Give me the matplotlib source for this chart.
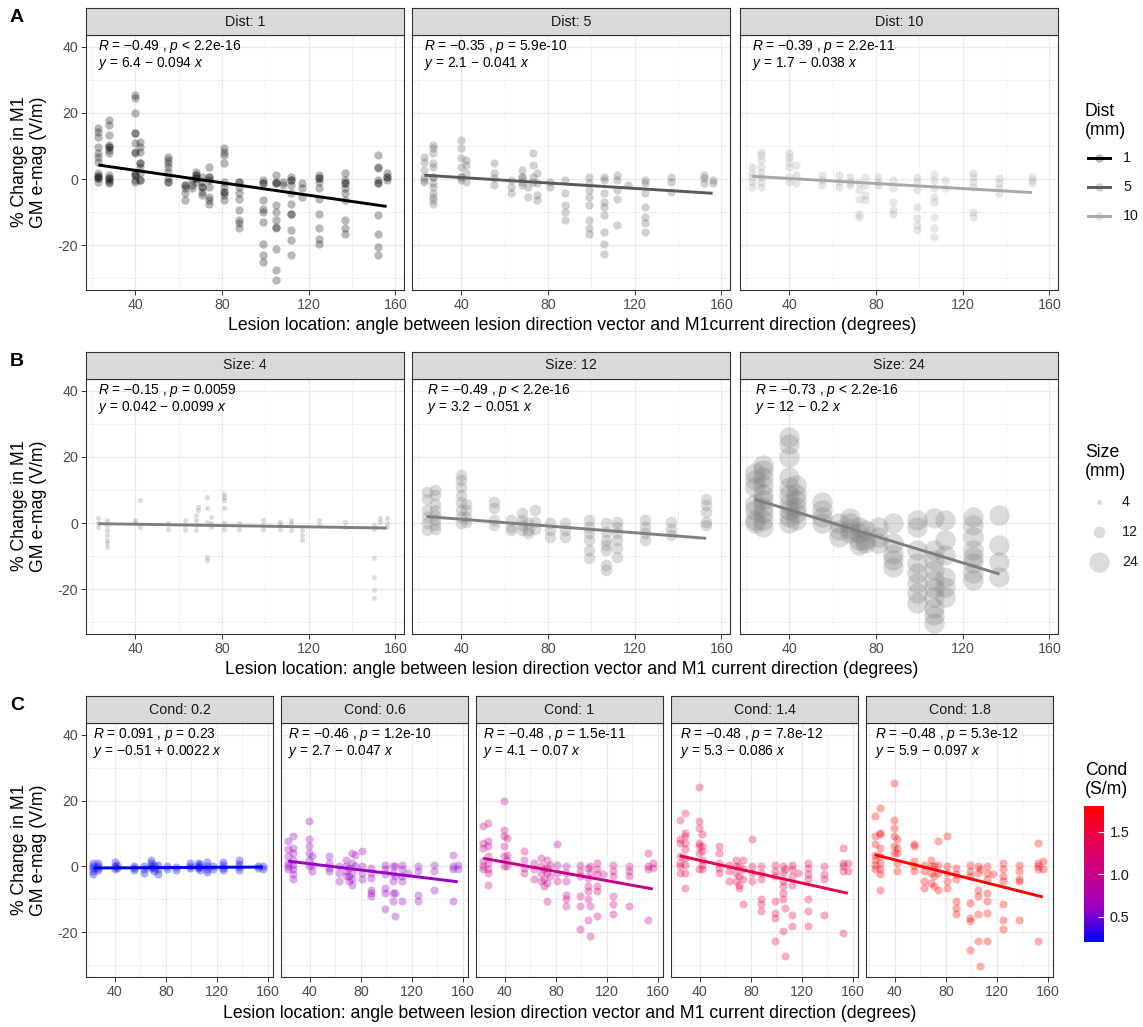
import numpy as np
import matplotlib
import matplotlib.pyplot as plt
from matplotlib.colors import LinearSegmentedColormap, Normalize
from matplotlib.lines import Line2D

plt.rcParams['font.family'] = ['Liberation Sans', 'DejaVu Sans']
plt.rcParams['mathtext.fontset'] = 'custom'
plt.rcParams['mathtext.rm'] = 'Liberation Sans'
plt.rcParams['mathtext.it'] = 'Liberation Sans:italic'
plt.rcParams['axes.unicode_minus'] = False

# ---------------- datos ----------------
# fila A: distancia (mm)
dist_titulos = ['Dist: 1', 'Dist: 5', 'Dist: 10']
dist_colores = ['#000000', '#5A5A5A', '#A8A8A8']
dist_etiquetas = ['1', '5', '10']
dist_coef = [(6.4, -0.094), (2.1, -0.041), (1.7, -0.038)]
dist_r = [r'$R$ = $-$0.49 , $p$ < 2.2e-16', r'$R$ = $-$0.35 , $p$ = 5.9e-10', r'$R$ = $-$0.39 , $p$ = 2.2e-11']
dist_eq = [r'$y$ = 6.4 $-$ 0.094 $x$', r'$y$ = 2.1 $-$ 0.041 $x$', r'$y$ = 1.7 $-$ 0.038 $x$']

dist1_ang = [23, 28, 40, 42, 55, 63, 66, 68, 71, 74, 81, 88, 99, 105, 108, 112, 117, 125, 137, 152, 156]
dist1_val = [
    [15.4, 14.3, 12.8, 9.8, 8.0, 6.7, 5.3, 1.7, 1.0, 1.0, 0.2, 0.2, -0.8],
    [17.9, 16.4, 13.3, 10.3, 9.8, 9.8, 8.8, 7.8, 1.2, 0.2, 0.2, -0.3, -0.8, -1.3],
    [25.5, 24.4, 19.9, 13.8, 13.8, 10.8, 8.3, 7.8, 1.7, 1.2, 1.2, -0.3, -0.8],
    [11.3, 9.8, 8.3, 4.7, 4.7, 3.7, 1.7, -0.3, -0.3],
    [6.8, 5.8, 4.7, 3.7, 2.2, 0.2, -0.8, -0.8],
    [-1.8, -1.8, -2.8, -4.3, -6.4],
    [-0.3, -1.8, -2.8],
    [2.2, 1.2, 1.2, 0.2, 0.2, -0.8],
    [0.7, -0.8, -2.3, -2.3, -3.8, -4.8],
    [3.7, 0.7, 0.7, -0.3, -2.3, -5.4, -6.4, -7.4],
    [9.3, 8.3, 7.3, 4.7, -0.8, -2.3, -3.8, -3.8, -4.8, -6.4],
    [-0.8, -0.8, -2.3, -4.3, -5.9, -9.4, -12.4, -13.4, -14.9],
    [-0.3, -1.3, -1.3, -6.4, -8.9, -9.9, -12.9, -19.5, -23.0, -25.1],
    [1.2, -0.8, -1.3, -1.3, -7.9, -9.9, -12.4, -14.4, -14.9, -21.0, -27.6, -30.6],
    [-0.8, -1.8],
    [0.7, -0.3, -0.3, -1.8, -4.3, -7.4, -10.4, -10.4, -15.5, -18.5, -23.0],
    [-1.3, -2.8, -5.4],
    [1.2, 0.2, 0.2, -0.8, -2.8, -5.9, -10.4, -14.9, -18.0, -19.5],
    [1.9, -0.3, -1.3, -1.3, -2.8, -4.3, -6.4, -12.4, -14.9, -16.5],
    [7.3, 3.7, 3.2, -0.3, -1.3, -1.3, -10.9, -16.5, -20.5, -23.0],
    [1.7, 0.7, 0.7, -0.3],
]

dist5_ang = [23, 27, 40, 42, 55, 63, 68, 71, 73, 75, 81, 88, 99, 106, 112, 117, 125, 137, 152, 156]
dist5_val = [
    [6.8, 5.3, 2.7, 0.7, -0.3, -0.8],
    [10.3, 9.3, 7.8, 4.7, 3.7, 0.7, 0.7, -1.3, -2.3, -4.3, -5.4, -6.4, -7.4],
    [11.8, 9.3, 6.3, 3.7, 0.7, 0.7, -0.3],
    [5.8, 4.2, 1.7, -0.8],
    [4.7, 1.7, 0.2, -1.8],
    [-0.3, -2.3, -4.3],
    [2.7, 0.7, 0.7, -0.8, -1.8],
    [-2.3, -5.4],
    [7.8, 4.2, 0.7, -0.8],
    [1.7, -1.3, -4.8, -6.4],
    [-0.8, -2.3],
    [-0.3, -4.3, -7.9, -9.9, -12.4],
    [0.7, -1.3, -3.3, -5.4, -7.9, -12.4, -14.9, -16.5],
    [0.7, -0.3, -4.3, -6.9, -8.4, -10.9, -16.0, -19.5, -22.5],
    [1.2, -0.3, -3.3, -5.9, -13.9],
    [-1.8],
    [-0.3, -1.3, -4.3, -8.4, -11.4, -13.4, -16.0],
    [0.7, -0.8, -3.8],
    [1.2, 0.2, -1.3],
    [-0.3, -1.3],
]

dist10_ang = [23, 27, 40, 43, 55, 63, 68, 72, 75, 81, 88, 99, 107, 112, 125, 137, 152]
dist10_val = [
    [3.7, 1.7, 0.7, -0.8, -2.3],
    [8.3, 7.3, 5.8, 3.7, 2.2, 0.7, -0.8, -2.3],
    [7.8, 6.8, 5.3, 3.7, 0.7, -0.8],
    [4.2, 1.2, -1.3],
    [1.2, -0.3, -1.8],
    [1.2, -0.8, -2.3],
    [0.7, -0.8, -1.8],
    [-1.3, -3.3, -5.9, -10.4, -11.4],
    [0.7, -1.8, -4.8, -6.4],
    [0.7, -0.8, -1.8],
    [-0.3, -2.8, -6.9, -9.4, -10.4],
    [0.7, -0.8, -3.3, -8.4, -11.9, -13.9, -15.5],
    [1.5, -0.3, -2.8, -5.4, -6.9, -11.4, -14.9, -17.5],
    [-0.3, -2.8],
    [1.7, 0.7, -0.8, -2.3, -9.9, -11.4],
    [0.2, -1.3, -2.8, -4.3],
    [0.7, -0.3, -1.3],
]

# fila B: tamano (mm)
size_titulos = ['Size: 4', 'Size: 12', 'Size: 24']
size_puntos = [13, 70, 215]
size_etiquetas = ['4', '12', '24']
size_coef = [(0.042, -0.0099), (3.2, -0.051), (12, -0.2)]
size_r = [r'$R$ = $-$0.15 , $p$ = 0.0059', r'$R$ = $-$0.49 , $p$ < 2.2e-16', r'$R$ = $-$0.73 , $p$ < 2.2e-16']
size_eq = [r'$y$ = 0.042 $-$ 0.0099 $x$', r'$y$ = 3.2 $-$ 0.051 $x$', r'$y$ = 12 $-$ 0.2 $x$']

size4_ang = [23, 27, 40, 42, 55, 63, 68, 69, 73, 75, 81, 88, 99, 107, 112, 117, 125, 137, 150, 153, 156]
size4_val = [
    [1.4, -0.1, -1.1],
    [0.9, -0.6, -2.1, -3.6, -5.1, -6.1, -7.1],
    [0.9, -0.1],
    [6.9, -1.1],
    [-0.1, -1.7],
    [0.9, -0.6, -2.1],
    [2.4, 0.9, -0.6, -2.1],
    [4.9, 3.9],
    [7.9, 4.4, 0.4, -10.2, -11.2],
    [1.9, -0.1, -1.1],
    [8.9, 7.9, 6.9, 4.4, -0.1, -1.7],
    [-0.1, -1.7],
    [0.9, -0.6, -1.7],
    [0.4, -0.6, -1.7],
    [0.9, -0.1, -2.1],
    [-2.1, -3.6, -5.1],
    [0.9, -0.6],
    [0.4, -1.1],
    [-0.6, -1.7, -10.7, -16.2, -20.2, -22.7],
    [1.4, 0.4],
    [1.4, -0.1, -1.1],
]

size12_ang = [24, 28, 40, 42, 55, 63, 68, 71, 74, 81, 88, 99, 107, 112, 125, 137, 153]
size12_val = [
    [9.4, 7.4, 3.9, 1.9, -0.1, -2.1],
    [9.9, 8.4, 5.9, 3.9, 2.4, 0.9, -0.6, -1.7],
    [14.5, 13.0, 11.0, 8.4, 6.4, 3.9, 1.9, -0.1],
    [5.9, 3.9, 1.9, 0.4],
    [6.4, 4.4, 0.9, -0.6],
    [0.9, -1.1, -2.1],
    [2.9, 0.9, -0.6, -2.1],
    [-0.1, -2.1, -3.1],
    [3.9, 0.4, -1.7],
    [-0.1, -2.1, -4.2],
    [-0.1, -2.1, -4.2],
    [0.9, -1.1, -3.1, -5.1, -8.1, -10.7],
    [-0.1, -2.6, -5.1, -6.6, -8.1, -12.7, -14.2],
    [0.4, -1.1, -3.1, -5.1, -7.6, -10.2],
    [0.9, -1.1, -3.1, -5.1],
    [0.4, -1.7, -3.6],
    [7.4, 5.4, 3.4, 0.4, -0.6],
]

size24_ang = [24, 28, 40, 43, 55, 63, 68, 72, 75, 81, 88, 99, 107, 112, 125, 137]
size24_val = [
    [15.0, 13.0, 11.0, 5.9, 3.9, 0.9, -0.1],
    [17.5, 16.0, 14.0, 11.5, 8.9, 6.9, 4.9, 2.9, 0.9, -1.1],
    [26.0, 24.0, 20.0, 14.0, 11.0, 8.4, 5.9, 3.9, 1.9, -0.1],
    [11.5, 8.9, 6.9, 4.9, 2.9, 0.9],
    [6.4, 3.9, 1.9, -0.1],
    [-0.1, -2.1, -4.2],
    [1.4, -0.1, -1.7, -3.1],
    [-1.1, -3.1, -5.1, -6.6],
    [-2.1, -5.1, -6.1],
    [-1.1, -4.2, -6.1],
    [-0.1, -6.1, -9.2, -11.2, -13.2],
    [0.9, -1.1, -8.1, -12.2, -15.2, -18.2, -21.2, -24.2],
    [1.4, -8.1, -11.2, -14.2, -17.2, -19.7, -22.2, -25.7, -27.8, -30.2],
    [0.9, -5.1, -9.7, -16.2, -19.2, -22.2],
    [1.9, -0.6, -4.2, -8.1, -10.2, -12.2, -15.2, -17.2],
    [2.4, -6.6, -11.7, -16.2],
]

# fila C: conductividad (S/m)
cond_titulos = ['Cond: 0.2', 'Cond: 0.6', 'Cond: 1', 'Cond: 1.4', 'Cond: 1.8']
cond_valores = [0.2, 0.6, 1.0, 1.4, 1.8]
cond_coef = [(-0.51, 0.0022), (2.7, -0.047), (4.1, -0.07), (5.3, -0.086), (5.9, -0.097)]
cond_r = [r'$R$ = 0.091 , $p$ = 0.23', r'$R$ = $-$0.46 , $p$ = 1.2e-10', r'$R$ = $-$0.48 , $p$ = 1.5e-11',
          r'$R$ = $-$0.48 , $p$ = 7.8e-12', r'$R$ = $-$0.48 , $p$ = 5.3e-12']
cond_eq = [r'$y$ = $-$0.51 + 0.0022 $x$', r'$y$ = 2.7 $-$ 0.047 $x$', r'$y$ = 4.1 $-$ 0.07 $x$',
           r'$y$ = 5.3 $-$ 0.086 $x$', r'$y$ = 5.9 $-$ 0.097 $x$']

cond02_ang = [23, 27, 40, 42, 55, 63, 68, 71, 74, 81, 88, 99, 105, 107, 112, 117, 125, 137, 152, 156]
cond02_val = [
    [1.0, 0.2, -0.6, -1.5, -2.4],
    [1.2, 0.3, -0.5, -1.2],
    [1.4, 0.2, -0.8],
    [0.5, -0.6],
    [0.3, -0.4, -1.2],
    [0.2, -0.8, -1.9],
    [2.0, 1.0, 0.2, -0.6],
    [0.6, -0.5, -1.3],
    [0.4, -0.9, -2.2],
    [0.1, -0.8],
    [-0.2, -1.1],
    [1.0, 0.2, -0.5],
    [1.1, 0.3, -0.6],
    [0.8, -0.2, -1.2],
    [1.3, 0.1, -0.9, -1.7],
    [0.2, -0.7],
    [1.4, 0.5, -0.4, -1.2],
    [2.0, 0.9, -0.3, -1.0],
    [0.2, -0.5],
    [0.0, -0.8],
]

cond06_ang = [23, 27, 39, 42, 55, 63, 68, 71, 73, 75, 81, 88, 99, 105, 107, 112, 117, 125, 137, 152, 156]
cond06_val = [
    [7.7, 5.2, 3.1, 1.1, 0.1, -0.9],
    [9.2, 5.7, 4.1, 2.1, 0.6, -0.9, -2.4, -3.9],
    [13.7, 8.2, 6.2, 4.1, 2.1, 0.1],
    [3.1, 0.6, -1.4],
    [3.1, 1.1, -0.4, -1.4],
    [0.1, -1.9, -4.4],
    [2.1, 0.1, -1.4, -2.9],
    [-0.4, -2.9, -4.4],
    [4.1, 1.1, -1.9, -3.9, -5.5],
    [3.6, 0.1],
    [4.6, 0.1, -1.9, -3.9],
    [-0.4, -1.9, -3.4, -7.0, -8.0, -9.0],
    [0.6, -0.9, -2.4, -6.5, -8.0, -13.0],
    [0.1, -1.9, -4.4, -8.0, -10.5],
    [0.1, -2.9, -8.0, -15.0],
    [0.6, -0.9, -2.9, -4.4, -10.5],
    [-1.9],
    [0.1, -1.4, -8.5, -10.5],
    [0.6, -1.4, -7.0],
    [3.6, 0.1, -0.9, -10.5],
    [0.6, -0.9],
]

cond10_ang = [23, 27, 39, 42, 55, 63, 68, 71, 73, 75, 81, 88, 99, 105, 107, 112, 117, 125, 137, 152, 156]
cond10_val = [
    [12.2, 7.2, 5.7, 1.6, 0.1, -0.9],
    [13.2, 7.7, 6.2, 3.1, 1.1, -0.9, -1.9, -5.5],
    [19.8, 11.2, 9.2, 6.2, 3.1, 0.1],
    [8.7, 3.6, 2.1, 0.1],
    [4.6, 2.1, -0.4, -1.9],
    [1.1, -0.9, -3.9],
    [2.6, 0.1, -1.9, -4.4],
    [-0.9, -3.9, -6.0],
    [2.1, -0.4, -1.9, -4.9, -10.5],
    [0.6, -2.9],
    [6.7, 0.6, -1.9, -4.4],
    [0.1, -1.9, -4.4, -8.5, -10.0, -12.0],
    [0.6, -1.4, -2.9, -9.0, -12.0, -19.1],
    [-0.4, -3.4, -6.0, -7.5, -10.0, -16.1],
    [0.1, -1.9, -12.0, -21.1],
    [1.1, -0.9, -2.4, -6.0, -7.5, -15.0],
    [-2.4],
    [0.6, -1.4, -2.9, -9.0, -11.5, -14.5],
    [0.1, -1.4, -2.9, -12.0],
    [4.1, 0.1, -0.9, -16.1],
    [1.1, -0.4],
]

cond14_ang = [24, 28, 39, 42, 55, 63, 68, 71, 74, 81, 88, 99, 105, 107, 112, 117, 125, 137, 152, 156]
cond14_val = [
    [14.2, 8.2, 7.2, 3.1, 1.1, 0.1, -1.9],
    [16.3, 10.2, 9.2, 7.2, 5.2, 2.6, 0.6, -1.9, -6.5],
    [24.1, 13.7, 11.7, 7.2, 6.2, 4.1, -0.9],
    [9.7, 6.2, 4.6, 2.1, 0.6, -0.9],
    [6.2, 4.1, 1.1, -0.4, -1.9],
    [0.6, -1.4, -4.4],
    [2.1, 0.1, -1.9, -4.4],
    [0.1, -2.9, -5.5, -6.5],
    [2.1, -0.9, -3.9, -11.5],
    [8.2, 0.1, -1.9, -4.4],
    [0.1, -1.9, -3.9, -10.0, -11.5, -13.5],
    [0.6, -1.4, -2.9, -10.5, -14.0, -15.6, -22.6],
    [0.1, -1.9, -4.4, -6.0, -8.0, -10.0, -19.6],
    [-0.9, -12.6, -27.2],
    [0.6, -0.9, -2.9, -5.5, -14.6, -18.1],
    [-1.9],
    [1.1, -0.4, -2.4, -3.9, -10.0, -13.5, -18.1],
    [0.1, -2.4, -3.9, -14.6],
    [5.7, 1.1, 0.1, -1.4, -20.1],
    [1.1, -1.4],
]

cond18_ang = [24, 28, 39, 42, 55, 63, 68, 71, 74, 81, 88, 99, 105, 107, 112, 117, 125, 137, 152, 156]
cond18_val = [
    [15.3, 9.2, 6.7, 3.6, 2.1, 0.6, -0.9],
    [17.8, 10.2, 9.7, 5.7, 3.1, 1.1, -0.9, -2.4, -7.0],
    [25.4, 14.2, 11.7, 9.2, 6.2, 4.1],
    [8.2, 5.7, 4.1, 1.1, -1.4],
    [6.7, 6.2, 1.6, 0.1, -1.4],
    [0.6, -1.4, -4.4, -6.5],
    [2.1, 0.1, -1.9, -4.9],
    [0.1, -2.9, -6.0],
    [7.7, 0.6, -1.9, -7.0],
    [9.2, 0.1, -1.9, -4.4, -6.5],
    [-0.4, -2.4, -3.9, -10.5, -12.5, -14.5],
    [0.6, -1.4, -2.9, -11.0, -15.6, -16.6, -25.2],
    [0.1, -1.9, -7.0, -9.0, -14.5, -22.6],
    [-0.9, -30.2],
    [0.1, -1.9, -3.9, -8.0, -10.5, -14.0, -22.6],
    [-2.4],
    [1.1, -0.9, -2.9, -4.4, -11.5, -16.1, -19.1],
    [0.6, -1.4, -3.9, -4.4, -16.1],
    [7.2, 1.1, 0.1, -0.9, -22.6],
    [1.6, -0.9],
]

# ---------------- maquetacion ----------------
W, H = 1143, 1027
ylabel_txt = '% Change in M1\nGM e-mag (V/m)'
xlabel_a = 'Lesion location: angle between lesion direction vector and M1current direction (degrees)'
xlabel_bc = 'Lesion location: angle between lesion direction vector and M1 current direction (degrees)'
t_titulo = 12.7
t_ticks = 10.3
t_nota = 9.9


def caja(x0, y0, w, h):
    # pixeles (origen arriba a la izquierda) -> fraccion de figura
    return [x0 / W, 1 - (y0 + h) / H, w / W, h / H]


def expandir(angulos, valores):
    xs = [a for a, v in zip(angulos, valores) for _ in v]
    ys = [y for v in valores for y in v]
    return np.array(xs, float), np.array(ys, float)


def hacerPanel(x0, y0, w, h, titulo, conEjeY):
    ax = fig.add_axes(caja(x0, y0, w, h))
    ax.set_xlim(17.3, 164)
    ax.set_ylim(-33.5, 43.5)
    ax.set_xticks([40, 80, 120, 160])
    ax.set_xticks([20, 60, 100, 140], minor=True)
    ax.set_yticks([-20, 0, 20, 40])
    ax.set_yticks([-30, -10, 10, 30], minor=True)
    ax.grid(which='major', color='#EBEBEB', lw=0.9)
    ax.grid(which='minor', color='#EBEBEB', lw=0.5)
    ax.set_axisbelow(True)
    ax.tick_params(which='minor', length=0)
    ax.tick_params(which='major', length=3.5, width=0.7, color='#333333',
                   labelcolor='#4D4D4D', labelsize=t_ticks, pad=2)
    for s in ax.spines.values():
        s.set_color('#333333')
        s.set_linewidth(0.8)
    if not conEjeY:
        ax.tick_params(axis='y', left=False, labelleft=False)
    tira = fig.add_axes(caja(x0, y0 - 27, w, 27))
    tira.set_facecolor('#D9D9D9')
    tira.set_xticks([])
    tira.set_yticks([])
    for s in tira.spines.values():
        s.set_color('#333333')
        s.set_linewidth(0.8)
    tira.text(0.5, 0.5, titulo, ha='center', va='center', fontsize=t_ticks,
              color='#1A1A1A', transform=tira.transAxes)
    return ax


def anotar(ax, xmin, linea1, linea2):
    ax.text(xmin, 40, linea1, ha='left', va='center', fontsize=t_nota, color='black')
    ax.text(xmin, 34.8, linea2, ha='left', va='center', fontsize=t_nota, color='black')


def recta(ax, xs, coef, color):
    xx = np.array([xs.min(), xs.max()])
    ax.plot(xx, coef[0] + coef[1] * xx, color=color, lw=2.1, solid_capstyle='butt', zorder=4)


fig = plt.figure(figsize=(W / 100, H / 100), dpi=100)
lienzo = fig.add_axes([0, 0, 1, 1])
lienzo.set_xlim(0, W)
lienzo.set_ylim(H, 0)
lienzo.axis('off')

# fila A
filaA_x0 = [86, 412, 740]
dist_datos = [(dist1_ang, dist1_val), (dist5_ang, dist5_val), (dist10_ang, dist10_val)]
for i, (ang, val) in enumerate(dist_datos):
    ax = hacerPanel(filaA_x0[i], 35, 318, 255, dist_titulos[i], i == 0)
    xs, ys = expandir(ang, val)
    ax.scatter(xs, ys, s=36, color=dist_colores[i], alpha=0.28, linewidths=0, zorder=3)
    recta(ax, xs, dist_coef[i], dist_colores[i])
    anotar(ax, xs.min(), dist_r[i], dist_eq[i])

# fila B
size_datos = [(size4_ang, size4_val), (size12_ang, size12_val), (size24_ang, size24_val)]
for i, (ang, val) in enumerate(size_datos):
    ax = hacerPanel(filaA_x0[i], 379, 318, 255, size_titulos[i], i == 0)
    xs, ys = expandir(ang, val)
    ax.scatter(xs, ys, s=size_puntos[i], color='#7F7F7F', alpha=0.28, linewidths=0, zorder=3)
    recta(ax, xs, size_coef[i], '#7F7F7F')
    anotar(ax, xs.min(), size_r[i], size_eq[i])

# fila C
paleta = LinearSegmentedColormap.from_list('cond', ['#0000FF', '#9A00C2', '#C90088', '#E8004F', '#FF0000'])
norma = Normalize(vmin=0.2, vmax=1.8)
filaC_x0 = [86, 281, 476, 671, 866]
cond_datos = [(cond02_ang, cond02_val), (cond06_ang, cond06_val), (cond10_ang, cond10_val),
              (cond14_ang, cond14_val), (cond18_ang, cond18_val)]
for i, (ang, val) in enumerate(cond_datos):
    ax = hacerPanel(filaC_x0[i], 723, 187, 254, cond_titulos[i], i == 0)
    xs, ys = expandir(ang, val)
    col = paleta(norma(cond_valores[i]))
    ax.scatter(xs, ys, s=34, color=col, alpha=0.32, linewidths=0, zorder=3)
    recta(ax, xs, cond_coef[i], col)
    anotar(ax, xs.min(), cond_r[i], cond_eq[i])

# textos comunes
for letra, yl in zip(['A', 'B', 'C'], [17, 361, 705]):
    lienzo.text(10, yl, letra, fontsize=14, fontweight='bold', ha='left', va='center')
for yc in [162, 506, 850]:
    lienzo.text(29, yc, ylabel_txt, rotation=90, ha='center', va='center',
                fontsize=t_titulo, linespacing=1.2, multialignment='center')
lienzo.text(572, 325, xlabel_a, ha='center', va='center', fontsize=t_titulo)
lienzo.text(572, 669, xlabel_bc, ha='center', va='center', fontsize=t_titulo)
lienzo.text(570, 1013, xlabel_bc, ha='center', va='center', fontsize=t_titulo)

# leyenda Dist
lienzo.text(1085, 121, 'Dist\n(mm)', ha='left', va='center', fontsize=t_titulo, linespacing=1.15)
for i, yk in enumerate([158, 187, 216]):
    lienzo.add_line(Line2D([1088, 1110], [yk, yk], color=dist_colores[i], lw=2.1))
    lienzo.scatter([1099], [yk], s=36, color=dist_colores[i], alpha=0.28, linewidths=0)
    lienzo.text(1123, yk, dist_etiquetas[i], ha='left', va='center', fontsize=t_ticks, color='#1A1A1A')

# leyenda Size
lienzo.text(1085, 462, 'Size\n(mm)', ha='left', va='center', fontsize=t_titulo, linespacing=1.15)
for i, yk in enumerate([502, 532, 562]):
    lienzo.scatter([1099], [yk], s=size_puntos[i], color='#7F7F7F', alpha=0.28, linewidths=0)
    lienzo.text(1122, yk, size_etiquetas[i], ha='left', va='center', fontsize=t_ticks, color='#1A1A1A')

# leyenda Cond (barra de color)
lienzo.text(1085, 780, 'Cond\n(S/m)', ha='left', va='center', fontsize=t_titulo, linespacing=1.15)
cax = fig.add_axes(caja(1084, 806, 20, 136))
cb = fig.colorbar(matplotlib.cm.ScalarMappable(norm=norma, cmap=paleta), cax=cax)
cb.set_ticks([0.5, 1.0, 1.5])
cb.set_ticklabels(['0.5', '1.0', '1.5'])
cb.outline.set_visible(False)
cax.tick_params(length=4, width=0.8, color='white', direction='in', labelsize=t_ticks,
                labelcolor='#1A1A1A', pad=4)

fig.savefig('out.png', dpi=100)
